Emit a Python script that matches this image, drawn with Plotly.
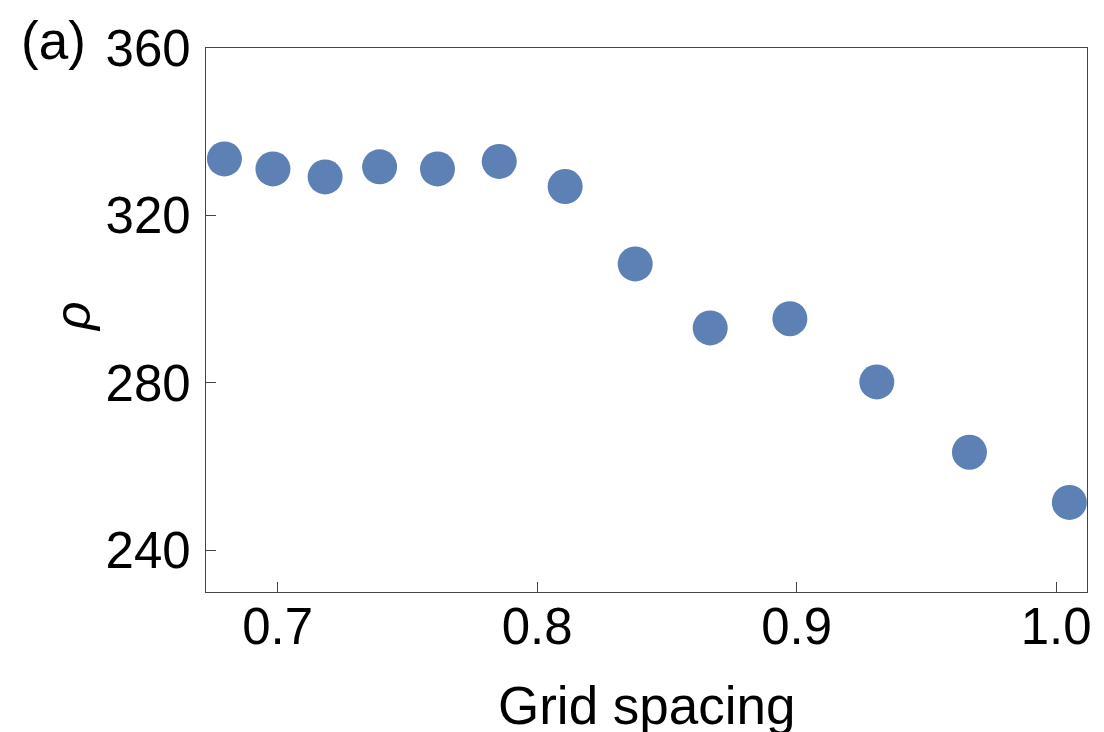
import plotly.graph_objects as go

grid_spacing = [0.6795, 0.6982, 0.7183, 0.7393, 0.7616, 0.7854, 0.8108,
                0.8378, 0.8667, 0.8974, 0.9309, 0.9666, 1.0051]
rho = [333.5, 331.1, 329.2, 331.6, 331.1, 332.9, 326.9,
       308.4, 293.1, 295.3, 280.2, 263.4, 251.4]

x_ticks = [0.7, 0.8, 0.9, 1.0]
x_tick_labels = ["0.7", "0.8", "0.9", "1.0"]
y_ticks = [240, 280, 320, 360]
y_tick_labels = ["240", "280", "320", "360"]

FONT = "Liberation Sans, Arial, sans-serif"

fig = go.Figure()
fig.add_trace(go.Scatter(
    x=grid_spacing, y=rho, mode="markers",
    marker=dict(size=35, color="#5e81b5", line=dict(width=0)),
    showlegend=False,
))

axis_common = dict(
    showgrid=False, zeroline=False, automargin=False,
    showline=True, mirror=True, linecolor="#444444", linewidth=1.3,
    ticks="inside", ticklen=10, tickwidth=1.3, tickcolor="#444444",
    tickfont=dict(family=FONT, size=51, color="black"),
)

PLOT_H = 732 - 48 - 140
PLOT_W = 1104 - 206 - 17

fig.update_layout(
    width=1104, height=732,
    margin=dict(l=206, r=17, t=48, b=140),
    paper_bgcolor="white", plot_bgcolor="white",
    xaxis=dict(range=[0.6724, 1.0119], tickvals=x_ticks, ticktext=x_tick_labels,
               ticklabelstandoff=-10,
               **axis_common),
    yaxis=dict(range=[230, 360], tickvals=y_ticks, ticktext=y_tick_labels,
               ticklabelstandoff=4,
               **axis_common),
    annotations=[
        dict(text="Grid spacing", xref="paper", yref="paper",
             x=(647 - 206) / PLOT_W, y=(592 - 705) / PLOT_H,
             xanchor="center", yanchor="middle", showarrow=False,
             font=dict(family=FONT, size=53, color="black")),
        dict(text="(a)", xref="paper", yref="paper", x=(19 - 206) / PLOT_W, y=(592 - 40) / PLOT_H,
             xanchor="left", yanchor="middle", showarrow=False,
             font=dict(family=FONT, size=53, color="black")),
        dict(text="<i>ρ</i>", xref="paper", yref="paper", x=(73 - 206) / PLOT_W, y=(592 - 317) / PLOT_H,
             xanchor="center", yanchor="middle", showarrow=False, textangle=-90,
             font=dict(family=FONT, size=50, color="black")),
    ],
)

fig.write_html("out.html")
